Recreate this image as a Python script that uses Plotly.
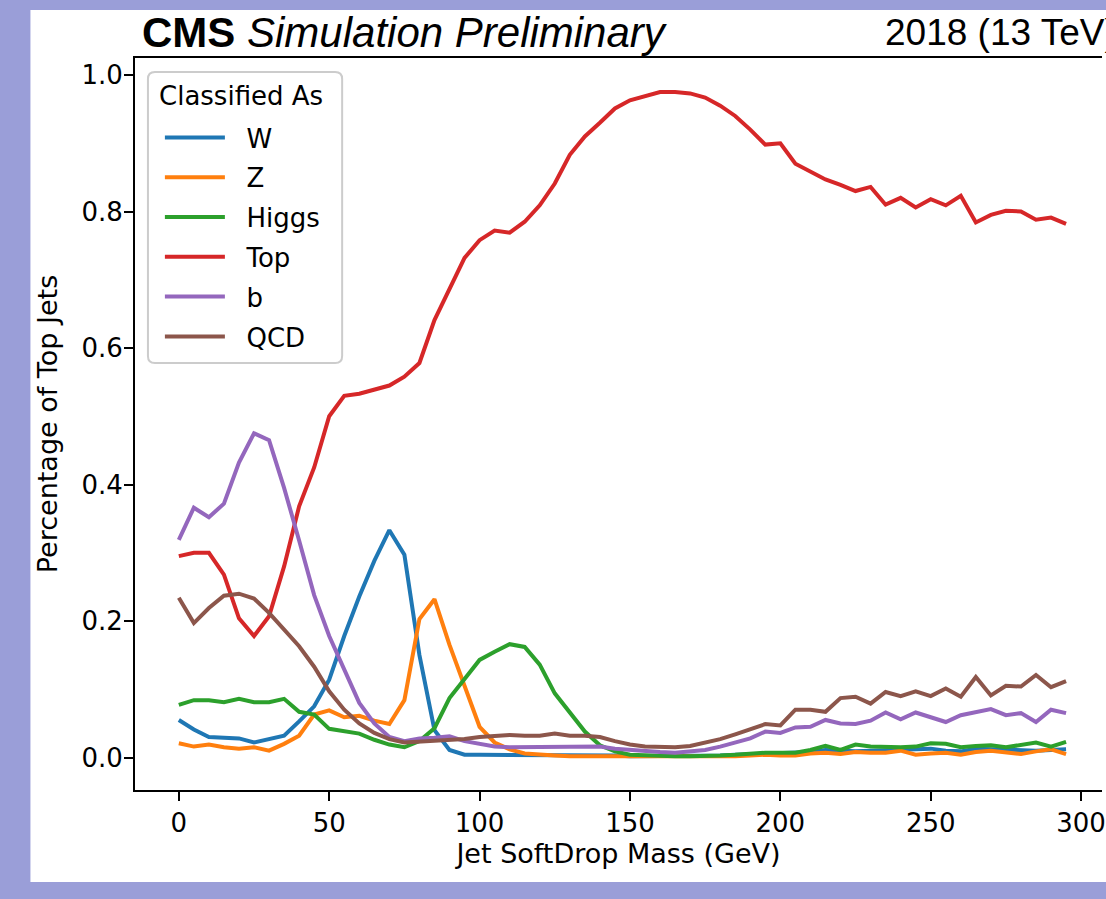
import plotly.graph_objects as go

mass = list(range(0, 300, 5))

w_frac = [0.055, 0.041, 0.030, 0.029, 0.028, 0.022, 0.027, 0.032, 0.053, 0.075,
          0.114, 0.178, 0.236, 0.288, 0.333, 0.297, 0.150, 0.040, 0.011, 0.004,
          0.004, 0.004, 0.004, 0.004, 0.004, 0.004, 0.003, 0.003, 0.003, 0.003,
          0.002, 0.002, 0.002, 0.002, 0.002, 0.002, 0.003, 0.004, 0.005, 0.006,
          0.007, 0.007, 0.008, 0.011, 0.010, 0.009, 0.010, 0.011, 0.011, 0.012,
          0.013, 0.010, 0.009, 0.013, 0.012, 0.011, 0.010, 0.010, 0.011, 0.012]
z_frac = [0.021, 0.016, 0.019, 0.015, 0.013, 0.015, 0.010, 0.020, 0.032, 0.063,
          0.069, 0.059, 0.061, 0.054, 0.049, 0.084, 0.203, 0.232, 0.165, 0.105,
          0.045, 0.022, 0.012, 0.006, 0.004, 0.003, 0.002, 0.002, 0.002, 0.001,
          0.001, 0.001, 0.001, 0.001, 0.001, 0.001, 0.002, 0.002, 0.003, 0.004,
          0.003, 0.003, 0.006, 0.007, 0.005, 0.008, 0.007, 0.007, 0.010, 0.004,
          0.006, 0.007, 0.004, 0.008, 0.010, 0.007, 0.005, 0.009, 0.012, 0.005]
higgs_frac = [0.077, 0.084, 0.084, 0.081, 0.086, 0.081, 0.081, 0.086, 0.067, 0.063,
              0.042, 0.038, 0.035, 0.026, 0.019, 0.015, 0.024, 0.043, 0.087, 0.115,
              0.143, 0.155, 0.166, 0.162, 0.136, 0.094, 0.065, 0.038, 0.018, 0.009,
              0.004, 0.003, 0.002, 0.002, 0.002, 0.002, 0.003, 0.004, 0.006, 0.007,
              0.007, 0.007, 0.011, 0.017, 0.011, 0.019, 0.016, 0.015, 0.015, 0.016,
              0.021, 0.020, 0.015, 0.017, 0.018, 0.015, 0.018, 0.022, 0.016, 0.023]
top_frac = [0.295, 0.300, 0.300, 0.268, 0.204, 0.178, 0.207, 0.280, 0.368, 0.425,
            0.500, 0.530, 0.533, 0.539, 0.545, 0.558, 0.578, 0.641, 0.686, 0.732,
            0.758, 0.772, 0.769, 0.785, 0.809, 0.841, 0.883, 0.910, 0.930, 0.951,
            0.963, 0.969, 0.975, 0.975, 0.973, 0.967, 0.955, 0.940, 0.920, 0.898,
            0.900, 0.870, 0.859, 0.847, 0.839, 0.830, 0.836, 0.810, 0.820, 0.806,
            0.818, 0.809, 0.823, 0.784, 0.795, 0.801, 0.800, 0.788, 0.791, 0.782]
b_frac = [0.319, 0.366, 0.352, 0.372, 0.432, 0.475, 0.465, 0.395, 0.318, 0.238,
          0.178, 0.129, 0.080, 0.050, 0.030, 0.024, 0.028, 0.029, 0.031, 0.024,
          0.020, 0.016, 0.015, 0.015, 0.016, 0.016, 0.016, 0.016, 0.016, 0.013,
          0.011, 0.010, 0.008, 0.007, 0.009, 0.011, 0.016, 0.022, 0.028, 0.038,
          0.036, 0.044, 0.045, 0.055, 0.050, 0.049, 0.054, 0.066, 0.056, 0.066,
          0.059, 0.052, 0.062, 0.066, 0.071, 0.062, 0.065, 0.052, 0.070, 0.065]
qcd_frac = [0.234, 0.197, 0.219, 0.237, 0.240, 0.233, 0.212, 0.187, 0.163, 0.133,
            0.097, 0.070, 0.050, 0.036, 0.027, 0.022, 0.023, 0.025, 0.026, 0.027,
            0.030, 0.031, 0.033, 0.032, 0.032, 0.035, 0.032, 0.032, 0.030, 0.024,
            0.019, 0.016, 0.015, 0.015, 0.017, 0.022, 0.027, 0.034, 0.041, 0.049,
            0.047, 0.070, 0.070, 0.067, 0.087, 0.089, 0.079, 0.096, 0.090, 0.097,
            0.090, 0.101, 0.089, 0.118, 0.091, 0.105, 0.104, 0.121, 0.103, 0.112]

class_names = ["W", "Z", "Higgs", "Top", "b", "QCD"]
class_colors = ["#1f77b4", "#ff7f0e", "#2ca02c", "#d62728", "#9467bd", "#8c564b"]
series = [w_frac, z_frac, higgs_frac, top_frac, b_frac, qcd_frac]

x_tick_vals = [0, 50, 100, 150, 200, 250, 300]
y_tick_vals = [0.0, 0.2, 0.4, 0.6, 0.8, 1.0]
y_tick_text = ["0.0", "0.2", "0.4", "0.6", "0.8", "1.0"]

W, H = 1106, 899
L, R, T, B = 135, 0, 58, 109
PW, PH = W - L - R, H - T - B

def px_x(p):
    return (p - L) / PW

def px_y(p):
    return (H - B - p) / PH

fig = go.Figure()
for name, col, vals in zip(class_names, class_colors, series):
    fig.add_trace(go.Scatter(x=mass, y=vals, mode="lines",
                             name="\u00a0\u00a0" + name,
                             legendgroup=name,
                             line=dict(color=col, width=4)))

tick_font = dict(family="DejaVu Sans", size=26, color="black")

fig.update_layout(
    width=W, height=H,
    margin=dict(l=L, r=R, t=T, b=B, pad=0),
    paper_bgcolor="#9a9ed8",
    plot_bgcolor="white",
    font=dict(family="DejaVu Sans", size=26, color="black"),
    xaxis=dict(range=[-14.57, 306.95], tickvals=x_tick_vals,
               ticks="outside", ticklen=9, tickwidth=2, tickcolor="black",
               showline=True, linecolor="black", linewidth=2, mirror=True,
               showgrid=False, zeroline=False, tickfont=tick_font,
               ticklabeloverflow="allow",
               title=dict(text="Jet SoftDrop Mass (GeV)", standoff=5,
                          font=dict(family="DejaVu Sans", size=27))),
    yaxis=dict(range=[-0.0476, 1.0249], tickvals=y_tick_vals, ticktext=y_tick_text,
               ticks="outside", ticklen=9, tickwidth=2, tickcolor="black",
               showline=True, linecolor="black", linewidth=2,
               showgrid=False, zeroline=False, tickfont=tick_font,
               ticklabelstandoff=-4,
               title=dict(text="Percentage of Top Jets", standoff=16,
                          font=dict(family="DejaVu Sans", size=27))),
    legend=dict(x=px_x(160), y=px_y(114), xanchor="left", yanchor="top",
                bgcolor="rgba(0,0,0,0)", borderwidth=0,
                tracegroupgap=3, itemwidth=60,
                font=dict(family="DejaVu Sans", size=26)),
    showlegend=True,
)

# white figure area
fig.add_shape(type="rect", xref="paper", yref="paper",
              x0=px_x(30), x1=px_x(1120), y0=px_y(882), y1=px_y(10),
              fillcolor="white", line=dict(width=0), layer="below")

# rounded legend frame
bx0, bx1, by0, by1, rr = px_x(148), px_x(343), px_y(363), px_y(72), 7
rx, ry = rr / PW, rr / PH
frame = (f"M {bx0 + rx},{by1} L {bx1 - rx},{by1} Q {bx1},{by1} {bx1},{by1 - ry} "
         f"L {bx1},{by0 + ry} Q {bx1},{by0} {bx1 - rx},{by0} "
         f"L {bx0 + rx},{by0} Q {bx0},{by0} {bx0},{by0 + ry} "
         f"L {bx0},{by1 - ry} Q {bx0},{by1} {bx0 + rx},{by1} Z")
fig.add_shape(type="path", xref="paper", yref="paper", path=frame,
              fillcolor="rgba(255,255,255,0.8)",
              line=dict(color="#cccccc", width=2), layer="above")

fig.add_annotation(xref="paper", yref="paper", x=px_x(157), y=px_y(96),
                   xanchor="left", yanchor="middle", showarrow=False,
                   text="Classified As",
                   font=dict(family="DejaVu Sans", size=26, color="black"))

fig.add_annotation(xref="paper", yref="paper", x=px_x(140), y=px_y(32),
                   xanchor="left", yanchor="middle", showarrow=False,
                   text="<b>CMS</b> <i>Simulation Preliminary</i>",
                   font=dict(family="Liberation Sans", size=42, color="black"))
fig.add_annotation(xref="paper", yref="paper", x=px_x(1123), y=px_y(32),
                   xanchor="right", yanchor="middle", showarrow=False,
                   text="2018 (13 TeV)",
                   font=dict(family="Liberation Sans", size=37, color="black"))

fig.write_html("out.html", config={"displayModeBar": False},
               post_script="document.body.style.margin='0';"
                           "document.body.style.overflow='hidden';")
